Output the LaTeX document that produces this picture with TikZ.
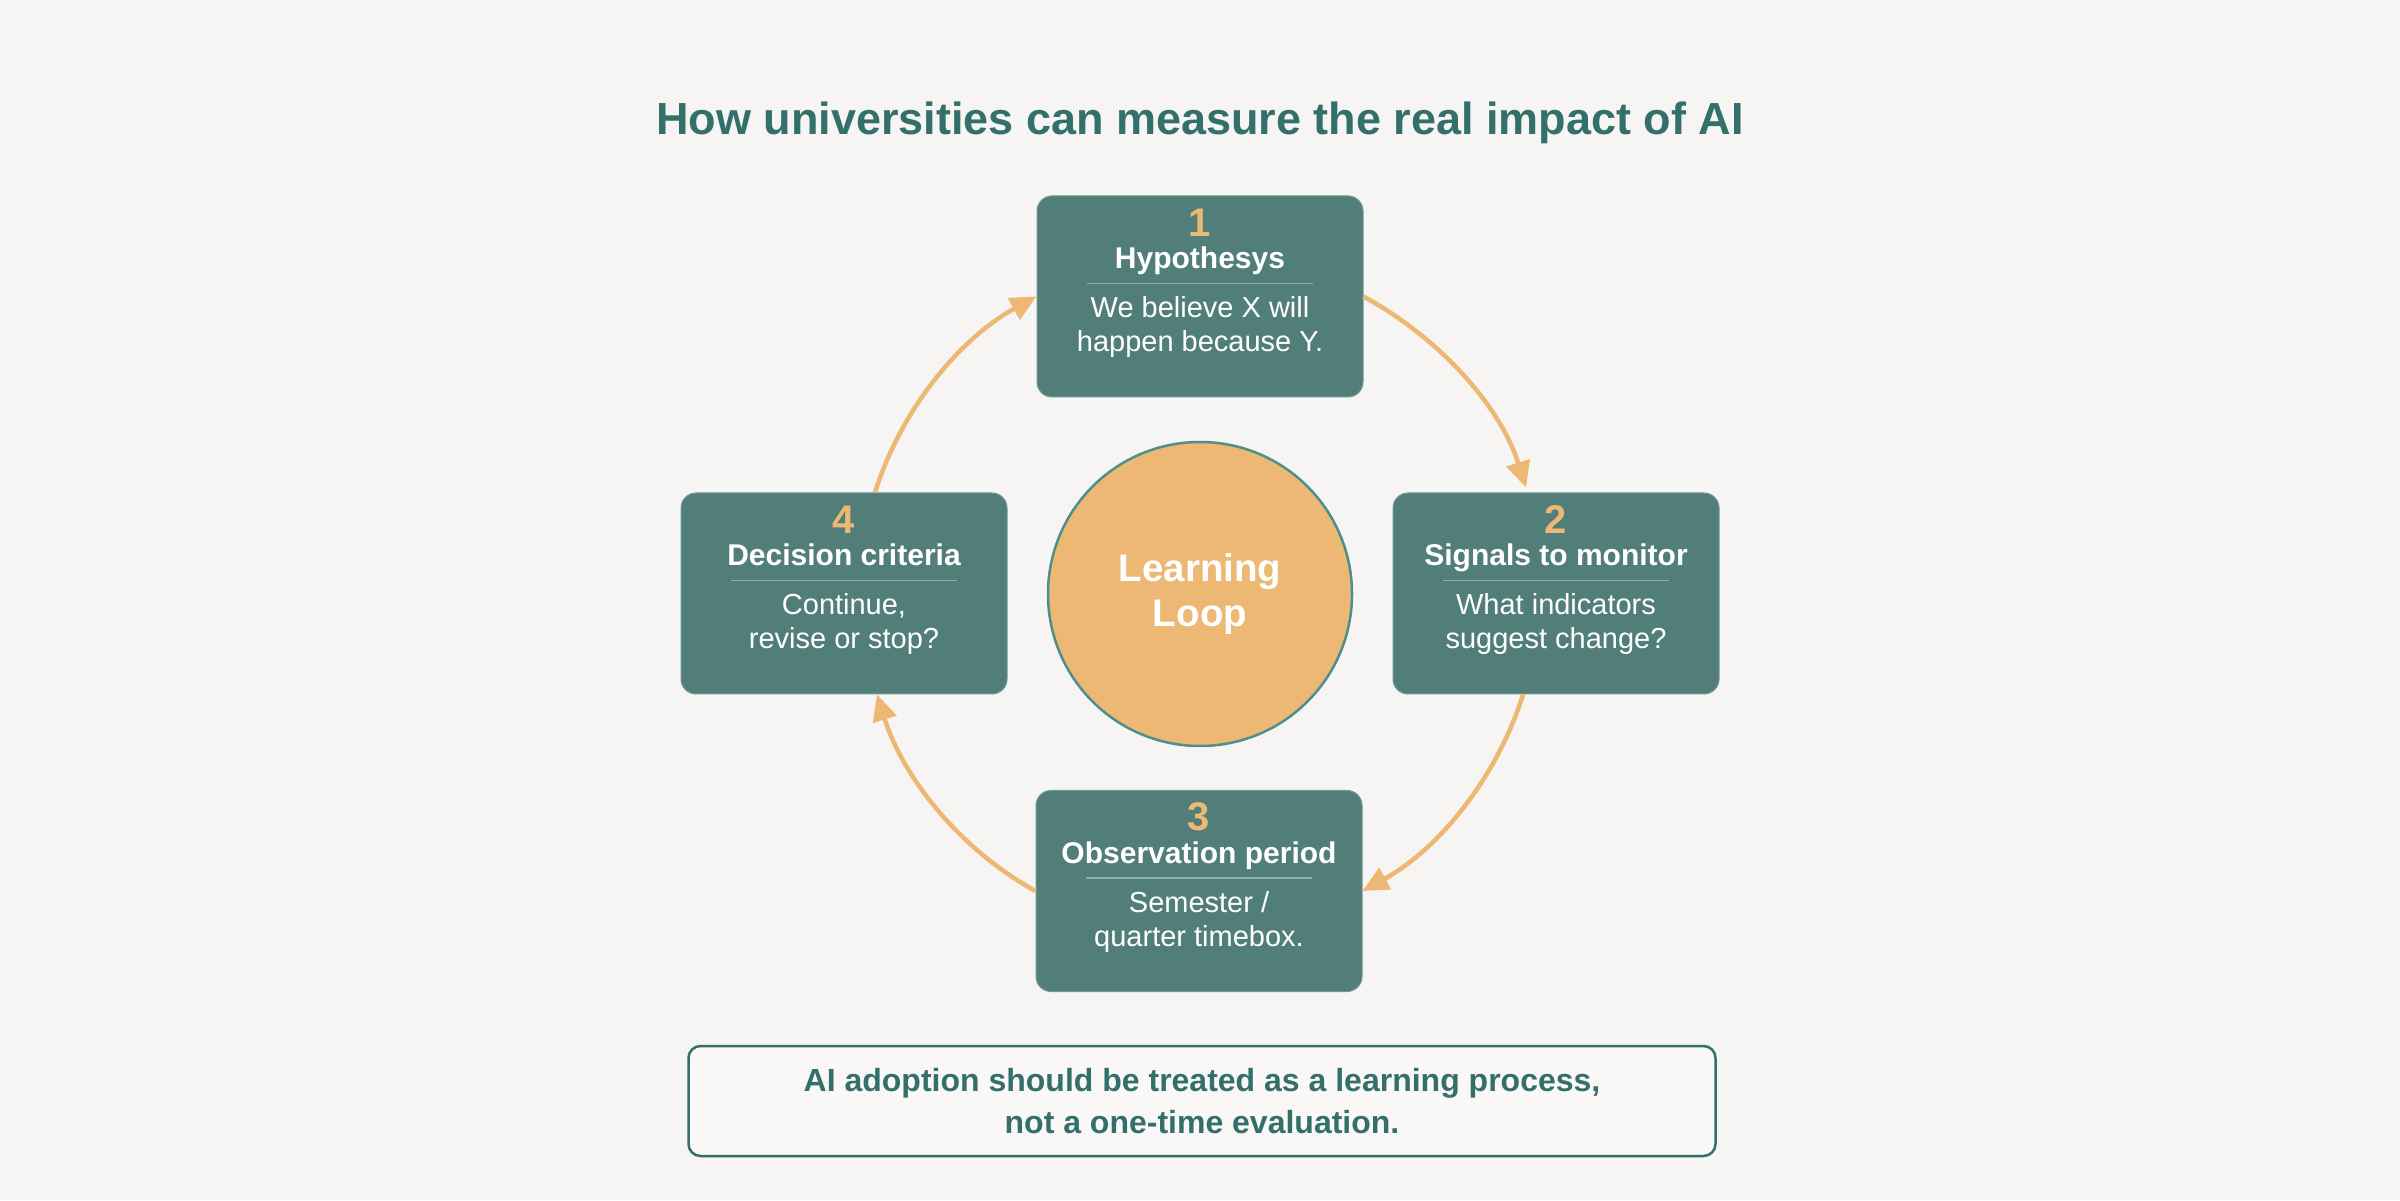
\documentclass[tikz,border=0pt]{standalone}
\usepackage{fontspec}
\setmainfont{Liberation Sans}
\usetikzlibrary{arrows.meta}

\definecolor{pagebg}{HTML}{F6F5F3}
\definecolor{cardteal}{HTML}{527E79}
\definecolor{cardedge}{HTML}{6E9994}
\definecolor{titleteal}{HTML}{34706B}
\definecolor{accent}{HTML}{ECB873}
\definecolor{ringteal}{HTML}{4E8F8B}
\definecolor{rulecol}{HTML}{8DAFAB}

\tikzset{
  card/.style={rectangle, rounded corners=15pt, fill=cardteal, draw=cardedge,
    line width=1pt, minimum width=326pt, minimum height=201pt, inner sep=0pt},
  cardnum/.style={anchor=base, inner sep=0pt, text=accent,
    font=\fontsize{40}{40}\selectfont\bfseries},
  cardtitle/.style={anchor=base, inner sep=0pt, text=white,
    font=\fontsize{30}{30}\selectfont\bfseries},
  cardtext/.style={anchor=base, inner sep=0pt, text=white, align=center,
    font=\fontsize{29}{34}\selectfont},
  cardrule/.style={draw=rulecol, line width=1.5pt},
  flow/.style={draw=accent, line width=4.5pt, looseness=0.88,
    -{Triangle[length=26pt,width=24pt]}},
}

% one step of the loop: name, centre, number, heading, text line 1, text line 2
\newcommand\stepcard[6]{%
  \node[card] (#1) at (#2) {};
  \node[cardnum] (#1-num) at ([yshift=-41pt]#1.north) {#3};
  \node[cardtitle] (#1-title) at ([yshift=-73pt]#1.north) {#4};
  \draw[cardrule] ([shift={(-113pt,-88pt)}]#1.north) -- ([shift={(113pt,-88pt)}]#1.north);
  % base of a two-line node sits on its last line
  \node[cardtext] (#1-text) at ([yshift=-156pt]#1.north) {#5\\#6};
}

\begin{document}
\begin{tikzpicture}[x=1pt,y=1pt]

  % page
  \useasboundingbox (0,0) rectangle (2400,1200);
  \fill[pagebg] (0,0) rectangle (2400,1200);

  % title
  \node[anchor=base, inner sep=0pt, text=titleteal,
    font=\fontsize{45}{45}\selectfont\bfseries] (title) at (1200,1065)
    {How universities can measure the real impact of AI};

  % centre
  \node[circle, minimum size=304pt, inner sep=0pt, fill=accent, draw=ringteal,
    line width=2.5pt, text=white, align=center,
    font=\fontsize{38.5}{45}\selectfont\bfseries] (loop) at (1200,606) {Learning\\Loop};

  % the four steps
  \stepcard{hyp}{1200,903.5}{1}{Hypothesys}{We believe X will}{happen because Y.}
  \stepcard{sig}{1556,606.5}{2}{Signals to monitor}{What indicators}{suggest change?}
  \stepcard{obs}{1199,309}{3}{Observation period}{Semester /}{quarter timebox.}
  \stepcard{dec}{844,606.5}{4}{Decision criteria}{Continue,}{revise or stop?}

  % arrows round the loop
  \draw[flow] (hyp.east) to[out=-28.7, in=107.7] ([shift={(-30pt,5pt)}]sig.north);
  \draw[flow] ([xshift=-33pt]sig.south) to[out=-107.4, in=28.8] (obs.east);
  \draw[flow] (obs.west) to[out=151.2, in=-72.6] ([xshift=33pt]dec.south);
  \draw[flow] ([xshift=31pt]dec.north) to[out=72.6, in=-151.3] (hyp.west);

  % closing note
  \node[rectangle, rounded corners=12pt, minimum width=1027pt, minimum height=110pt,
    fill=pagebg!70!white, draw=titleteal, line width=2.5pt, text=titleteal, align=center,
    font=\fontsize{32}{42}\selectfont\bfseries] (note) at (1202,99)
    {AI adoption should be treated as a learning process,\\not a one-time evaluation.};

\end{tikzpicture}
\end{document}
